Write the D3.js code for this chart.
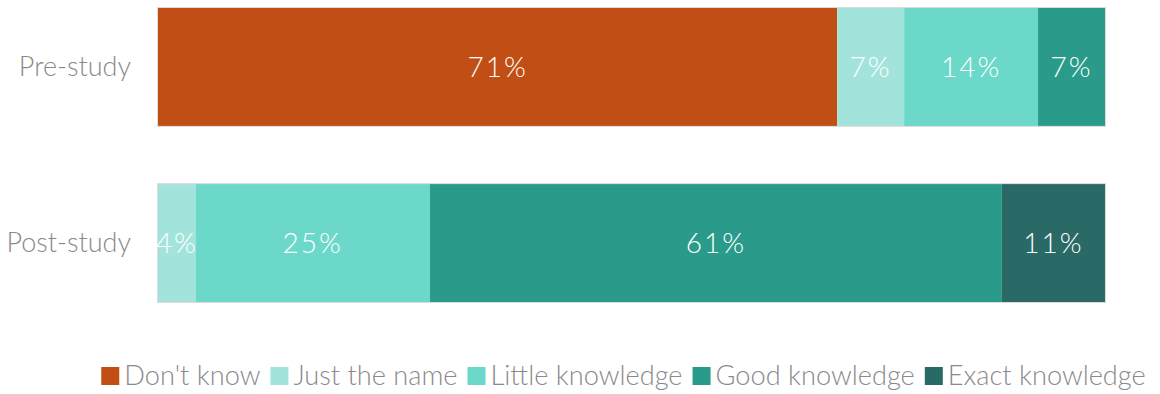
<!DOCTYPE html>
<html>
<head>
<meta charset="utf-8">
<script src="https://cdn.jsdelivr.net/npm/d3@7"></script>
<style>
  html, body { margin: 0; padding: 0; background: #fff; }
  svg { display: block; font-family: Lato, "Open Sans", sans-serif; }
</style>
</head>
<body>
<svg id="chart" width="1160" height="394"></svg>
<script>
// Survey groups and knowledge levels
const groups = ["Pre-study", "Post-study"];
const levels = ["Don't know", "Just the name", "Little knowledge", "Good knowledge", "Exact knowledge"];
const colors = ["#C14E14", "#A2E4DC", "#6CD8CA", "#2A9B8B", "#296966"];
// Percent of respondents per level, one array per group
const preStudy = [71, 7, 14, 7, 0];
const postStudy = [0, 4, 25, 61, 11];
const seriesByGroup = [preStudy, postStudy];

const svg = d3.select("#chart");
const W = 1160;
const margin = { left: 158, right: 55, top: 8 };

// Each bar spans the full width: shares are normalised by the group total
const rows = groups.map((g, i) => {
  const vals = seriesByGroup[i];
  const total = d3.sum(vals);
  let acc = 0;
  return {
    group: g,
    segs: vals.map((v, j) => {
      const s = { level: levels[j], value: v, x0: acc / total, x1: (acc + v) / total, color: colors[j] };
      acc += v;
      return s;
    }).filter(s => s.value > 0)
  };
});

const x = d3.scaleLinear().domain([0, 1]).range([margin.left, W - margin.right]);
const y = d3.scaleBand().domain(groups).range([margin.top, 302]).paddingInner(0.33).paddingOuter(0);

const bars = svg.append("g").selectAll("g").data(rows).join("g");

bars.selectAll("rect").data(d => d.segs.map(s => ({ ...s, group: d.group }))).join("rect")
  .attr("x", d => x(d.x0))
  .attr("y", d => y(d.group))
  .attr("width", d => x(d.x1) - x(d.x0))
  .attr("height", y.bandwidth())
  .attr("fill", d => d.color);

// thin outline round each bar
bars.append("rect")
  .attr("x", x(0) - 0.5)
  .attr("y", d => y(d.group) - 0.5)
  .attr("width", x(1) - x(0) + 1)
  .attr("height", y.bandwidth() + 1)
  .attr("fill", "none")
  .attr("stroke", "#dcdcdc")
  .attr("stroke-width", 1);

bars.selectAll("text").data(d => d.segs.map(s => ({ ...s, group: d.group }))).join("text")
  .attr("x", d => (x(d.x0) + x(d.x1)) / 2)
  .attr("y", d => y(d.group) + y.bandwidth() / 2)
  .attr("dy", "0.36em")
  .attr("text-anchor", "middle")
  .attr("fill", "#fff")
  .attr("font-size", 28)
  .attr("font-weight", 300)
  .attr("letter-spacing", 2)
  .text(d => d.value + "%");

// category axis
const yAxis = d3.axisLeft(y).tickSize(0).tickPadding(27);
const ya = svg.append("g").attr("transform", `translate(${margin.left},0)`).call(yAxis);
ya.select(".domain").remove();
ya.selectAll("text")
  .attr("font-size", 27)
  .attr("font-weight", 300)
  .attr("fill", "#8a8a8a")
  .attr("font-family", "Lato, sans-serif");

// legend
const legend = svg.append("g");
const items = legend.selectAll("g").data(levels).join("g");
items.append("rect")
  .attr("width", 18).attr("height", 18)
  .attr("y", -18)
  .attr("fill", (d, i) => colors[i]);
items.append("text")
  .attr("x", 23)
  .attr("y", 0)
  .attr("font-size", 27.2)
  .attr("font-weight", 300)
  .attr("fill", "#8a8a8a")
  .text(d => d);

const gap = 10;
let cx = 0;
items.each(function () {
  const g = d3.select(this);
  g.attr("transform", `translate(${cx},0)`);
  cx += 23 + g.select("text").node().getComputedTextLength() + gap;
});
const totalW = cx - gap;
legend.attr("transform", `translate(${(97 + 1150) / 2 - totalW / 2},385)`);
</script>
</body>
</html>
